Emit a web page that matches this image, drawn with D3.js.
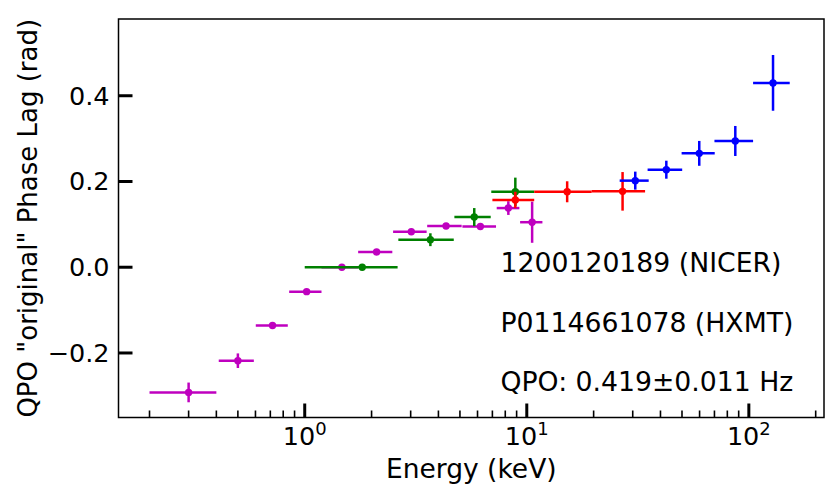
<!DOCTYPE html>
<html>
<head>
<meta charset="utf-8">
<script src="https://cdn.jsdelivr.net/npm/d3@7"></script>
<style>
  body { margin: 0; background: #fff; }
  text { font-family: "DejaVu Sans", sans-serif; }
</style>
</head>
<body>
<div id="chart"></div>
<script>
var width = 833, height = 498;
var margin = {top: 19, right: 9, bottom: 80.5, left: 118.5};
var innerW = width - margin.left - margin.right,
    innerH = height - margin.top - margin.bottom;

// NICER points: energy, bin edges, lag, lag error
var nicerE    = [0.30, 0.50, 0.716, 1.02, 1.47, 2.107, 3.02, 4.33, 6.18, 8.26, 10.57];
var nicerLo   = [0.20, 0.41, 0.602, 0.851, 1.19, 1.74, 2.50, 3.56, 5.13, 7.32, 9.33];
var nicerHi   = [0.40, 0.59, 0.839, 1.19, 1.74, 2.48, 3.54, 5.09, 7.27, 9.26, 11.76];
var nicerLag  = [-0.292, -0.218, -0.136, -0.057, 0.0, 0.0355, 0.0828, 0.096, 0.095, 0.138, 0.105];
var nicerErr  = [0.023, 0.017, 0.006, 0.004, 0.003, 0.004, 0.004, 0.003, 0.004, 0.016, 0.048];

// HXMT LE
var leE   = [1.815, 3.68, 5.80, 8.88];
var leLo  = [1.0, 2.64, 4.72, 6.92];
var leHi  = [2.62, 4.69, 6.88, 10.8];
var leLag = [0.0, 0.0642, 0.117, 0.176];
var leErr = [0.003, 0.015, 0.021, 0.033];

// HXMT ME
var meE   = [8.88, 15.2, 27.0];
var meLo  = [7.0, 10.8, 19.6];
var meHi  = [10.8, 19.6, 34.1];
var meLag = [0.157, 0.176, 0.177];
var meErr = [0.019, 0.0245, 0.045];

// HXMT HE
var heE   = [30.8, 42.5, 59.8, 86.9, 128.5];
var heLo  = [26.2, 35.0, 49.8, 70.0, 104.5];
var heHi  = [35.4, 50.1, 70.2, 104.5, 152.8];
var heLag = [0.202, 0.2275, 0.2656, 0.2945, 0.43];
var heErr = [0.021, 0.021, 0.029, 0.035, 0.065];

var yTicks = [-0.2, 0.0, 0.2, 0.4];
var xTicks = [1, 10, 100];
var notes = ["1200120189 (NICER)", "P0114661078 (HXMT)", "QPO: 0.419\u00b10.011 Hz"];

var series = [
  {color: "#bf00bf", e: nicerE, lo: nicerLo, hi: nicerHi, v: nicerLag, err: nicerErr},
  {color: "#008000", e: leE, lo: leLo, hi: leHi, v: leLag, err: leErr},
  {color: "#ff0000", e: meE, lo: meLo, hi: meHi, v: meLag, err: meErr},
  {color: "#0000ff", e: heE, lo: heLo, hi: heHi, v: heLag, err: heErr}
];

var svg = d3.select("#chart").append("svg")
    .attr("width", width).attr("height", height)
  .append("g")
    .attr("transform", "translate(" + margin.left + "," + margin.top + ")");

var x = d3.scaleLog().domain([0.145, 218]).range([0, innerW]);
var y = d3.scaleLinear().domain([-0.3505, 0.579]).range([innerH, 0]);

// minor ticks on x
var minor = [];
[0.1, 1, 10, 100].forEach(function(d) {
  for (var k = 2; k <= 9; k++) {
    var v = d * k;
    if (v > 0.145 && v < 218) minor.push(v);
  }
});
svg.append("g").selectAll("line").data(minor).enter().append("line")
    .attr("x1", d => x(d)).attr("x2", d => x(d))
    .attr("y1", innerH).attr("y2", innerH - 7)
    .attr("stroke", "#000").attr("stroke-width", 1.6);
svg.append("g").selectAll("line").data(xTicks).enter().append("line")
    .attr("x1", d => x(d)).attr("x2", d => x(d))
    .attr("y1", innerH).attr("y2", innerH - 14)
    .attr("stroke", "#000").attr("stroke-width", 3);

var xl = svg.append("g").selectAll("text").data(xTicks).enter().append("text")
    .attr("x", d => x(d)).attr("y", innerH + 27)
    .attr("text-anchor", "middle").attr("font-size", 25.5);
xl.append("tspan").text("10");
xl.append("tspan").attr("dy", -10).attr("font-size", 18).text(d => Math.round(Math.log10(d)));

svg.append("g").selectAll("line").data(yTicks).enter().append("line")
    .attr("x1", 0).attr("x2", 14)
    .attr("y1", d => y(d)).attr("y2", d => y(d))
    .attr("stroke", "#000").attr("stroke-width", 3);
svg.append("g").selectAll("text").data(yTicks).enter().append("text")
    .attr("x", -9).attr("y", d => y(d))
    .attr("dy", "0.35em")
    .attr("text-anchor", "end").attr("font-size", 25.5)
    .text(d => d3.format(".1f")(d).replace("-", "\u2212"));

// frame
svg.append("rect")
    .attr("width", innerW).attr("height", innerH)
    .attr("fill", "none").attr("stroke", "#000").attr("stroke-width", 1.5);

// error bars and points
series.forEach(function(s) {
  var g = svg.append("g").attr("stroke", s.color).attr("fill", s.color);
  s.e.forEach(function(e, i) {
    g.append("line")
        .attr("x1", x(s.lo[i])).attr("x2", x(s.hi[i]))
        .attr("y1", y(s.v[i])).attr("y2", y(s.v[i]))
        .attr("stroke-width", 2.5);
    g.append("line")
        .attr("x1", x(e)).attr("x2", x(e))
        .attr("y1", y(s.v[i] - s.err[i])).attr("y2", y(s.v[i] + s.err[i]))
        .attr("stroke-width", 2.5);
    g.append("circle")
        .attr("cx", x(e)).attr("cy", y(s.v[i])).attr("r", 3.7)
        .attr("stroke", "none");
  });
});

svg.append("g").selectAll("text").data(notes).enter().append("text")
    .attr("x", 500.5 - margin.left)
    .attr("y", (d, i) => 272 - margin.top + i * 59.5)
    .attr("font-size", 26.7)
    .text(d => d);

svg.append("text")
    .attr("x", innerW / 2).attr("y", innerH + 60)
    .attr("text-anchor", "middle").attr("font-size", 26.5)
    .text("Energy (keV)");

svg.append("text")
    .attr("transform", "translate(" + (37 - margin.left) + "," + (innerH / 2) + ") rotate(-90)")
    .attr("text-anchor", "middle").attr("font-size", 26)
    .text("QPO \"original\" Phase Lag (rad)");
</script>
</body>
</html>
